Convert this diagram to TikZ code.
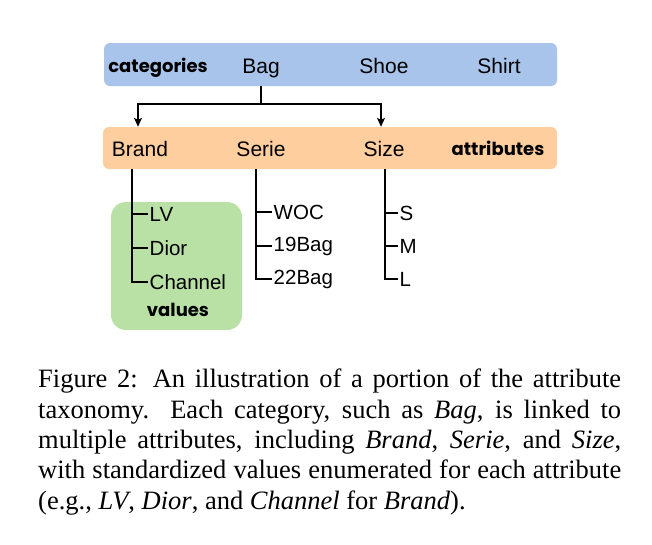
\documentclass[tikz,border=0pt]{standalone}
\usepackage{fontspec}
\setmainfont{Liberation Serif}
\newfontfamily\lab{Liberation Sans}
\newfontfamily\comic{Poppins}
\usetikzlibrary{arrows.meta}
\definecolor{catblue}{HTML}{A9C4EB}
\definecolor{attrorange}{HTML}{FFCE9F}
\definecolor{valgreen}{HTML}{B9E0A5}
\tikzset{
  bar/.style={rounded corners=6pt, draw=none, inner sep=0pt},
  lbl/.style={font=\lab\fontsize{21}{24}\selectfont, inner sep=0pt, anchor=base},
  vlbl/.style={font=\lab\fontsize{20.5}{24}\selectfont, inner xsep=1.5pt, inner ysep=0pt, anchor=west},
  tag/.style={font=\comic\bfseries\fontsize{18}{20}\selectfont, inner sep=0pt, anchor=base},
  conn/.style={line width=1.2pt, black},
  tip/.style={-{Stealth[length=9pt,width=8pt,inset=2pt]}},
}
\begin{document}
\begin{tikzpicture}[x=1pt,y=-1pt]
\useasboundingbox (0,0) rectangle (652,544);
% bars
\node[bar, fill=catblue, minimum width=453pt, minimum height=43pt] (cat) at (330.5,64.5) {};
\node[bar, fill=attrorange, minimum width=454pt, minimum height=42pt] (attr) at (330,148) {};
\node[bar, rounded corners=15pt, fill=valgreen, minimum width=131pt, minimum height=128pt] (vbox) at (176.5,266) {};
% category labels
\node[tag] (categories) at (158,72) {categories};
\node[lbl] (bag) at (261,73) {Bag};
\node[lbl] (shoe) at (384,73) {Shoe};
\node[lbl] (shirt) at (499,73) {Shirt};
% attribute labels
\node[lbl] (brand) at (140,156) {Brand};
\node[lbl] (serie) at (261,156) {Serie};
\node[lbl] (size) at (384,156) {Size};
\node[tag] (attributes) at (498,155) {attributes};
% arrows
\coordinate (j) at (261,104);
\coordinate (a1) at (138,104);
\coordinate (a2) at (381,104);
\draw[conn] (cat.south -| j) -- (j);
\draw[conn, tip] (j) -- (a1) -- (a1 |- attr.north);
\draw[conn, tip] (j) -- (a2) -- (a2 |- attr.north);
% value labels
\node[vlbl] (lv) at (148,214) {LV};
\node[vlbl] (dior) at (148,248) {Dior};
\node[vlbl] (channel) at (148,282) {Channel};
\node[tag] (values) at (178,316) {values};
\node[vlbl] (woc) at (272,212) {WOC};
\node[vlbl] (b19) at (272,246) {19Bag};
\node[vlbl] (b22) at (272,279) {22Bag};
\node[vlbl] (s) at (398,213) {S};
\node[vlbl] (m) at (398,246) {M};
\node[vlbl] (l) at (398,279) {L};
% trees
\coordinate (t1) at (132,0);
\coordinate (t2) at (256,0);
\coordinate (t3) at (385,0);
\draw[conn] (t1 |- attr.south) -- (t1 |- channel.west) -- (channel.west);
\draw[conn] (t1 |- lv.west) -- (lv.west);
\draw[conn] (t1 |- dior.west) -- (dior.west);
\draw[conn] (t2 |- attr.south) -- (t2 |- b22.west) -- (b22.west);
\draw[conn] (t2 |- woc.west) -- (woc.west);
\draw[conn] (t2 |- b19.west) -- (b19.west);
\draw[conn] (t3 |- attr.south) -- (t3 |- l.west) -- (l.west);
\draw[conn] (t3 |- s.west) -- (s.west);
\draw[conn] (t3 |- m.west) -- (m.west);
% caption
\node[anchor=north west, inner sep=0pt, text width=583pt, align=justify,
      font=\fontsize{26.5}{30.3}\selectfont] (caption) at (38,369)
{Figure 2: An illustration of a portion of the attribute\linebreak
taxonomy. Each category, such as \textit{Bag}, is linked to\linebreak
multiple attributes, including \textit{Brand}, \textit{Serie}, and \textit{Size},\linebreak
with standardized values enumerated for each attribute\linebreak
(e.g., \textit{LV}, \textit{Dior}, and \textit{Channel} for \textit{Brand}).};
\end{tikzpicture}
\end{document}
